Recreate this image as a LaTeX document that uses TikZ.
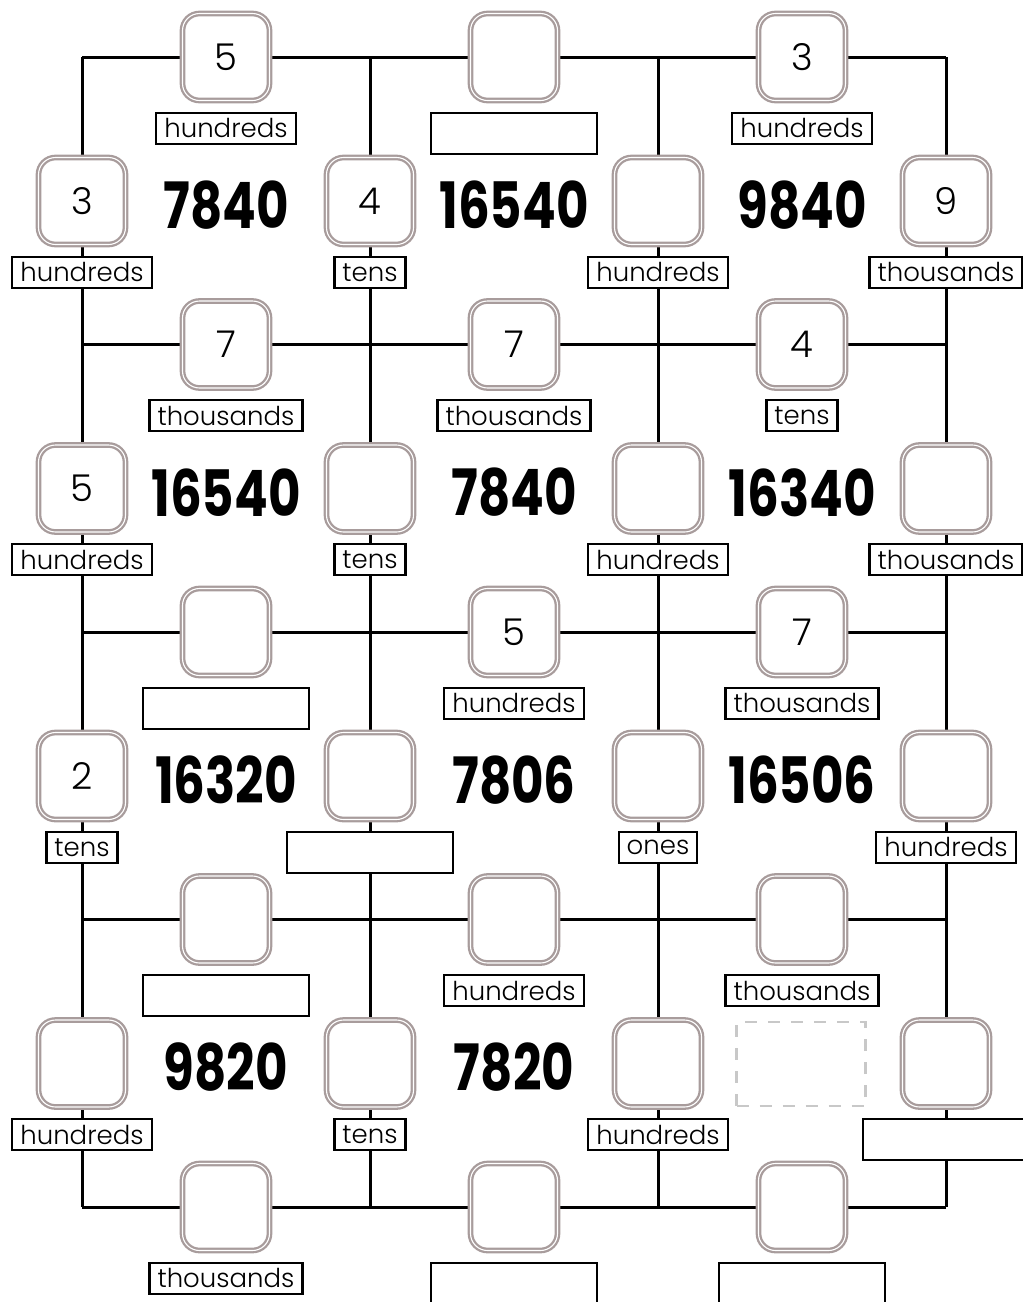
\documentclass[tikz,border=0pt]{standalone}
\usepackage{fontspec}
\setmainfont{Poppins}
\newfontfamily\thinfont{Poppins Light}
\newfontfamily\numfont{Poppins}[FakeStretch=0.78]
\usepackage{tikz}
\usetikzlibrary{positioning}
\definecolor{SlotG}{RGB}{168,156,156}
\definecolor{DashG}{RGB}{200,200,200}
\tikzset{
  slot/.style={draw=SlotG,line width=2.3pt,double=white,double distance=1.1pt,fill=white,
    rounded corners=17pt,minimum width=87pt,minimum height=87pt,inner sep=0pt,
    font=\thinfont\fontsize{37}{37}\selectfont},
  tag/.style={draw,line width=2.2pt,fill=white,inner xsep=8pt,inner ysep=0pt,
    minimum height=31pt,font=\thinfont\fontsize{26}{26}\selectfont},
  blanktag/.style={draw,line width=2.2pt,fill=white,minimum width=166pt,minimum height=41pt},
  bignum/.style={font=\numfont\bfseries\fontsize{64}{64}\selectfont,inner sep=0pt},
  ghost/.style={draw=DashG,line width=2.5pt,dash pattern=on 12pt off 11pt,
    minimum width=129pt,minimum height=84pt},
  grid line/.style={line width=3pt}
}
\begin{document}
\begin{tikzpicture}[x=1pt,y=-1pt]
  \useasboundingbox (0,0) rectangle (1023,1302);
  \clip (0,0) rectangle (1023,1302);
  % grid corners
  \foreach \i in {0,...,3}{
    \foreach \j in {0,...,4}{
      \coordinate (g\i\j) at ({82+288*\i},{57+287.5*\j});}}
  \foreach \j in {0,...,4}{\draw[grid line] (g0\j) -- (g3\j);}
  \foreach \i in {0,...,3}{\draw[grid line] (g\i0) -- (g\i4);}
  % slots on the horizontal lines
  \foreach \i/\j/\v/\t in {0/0/5/hundreds,2/0/3/hundreds,
                           0/1/7/thousands,1/1/7/thousands,2/1/4/tens,
                           1/2/5/hundreds,2/2/7/thousands,
                           1/3//hundreds,2/3//thousands,0/4//thousands}{
    \node[slot] (h\i\j) at ({226+288*\i},{57+287.5*\j}) {\v};
    \node[tag,below=10pt of h\i\j] (th\i\j) {\t};}
  \foreach \i/\j in {1/0,0/2,0/3,1/4,2/4}{
    \node[slot] (h\i\j) at ({226+288*\i},{57+287.5*\j}) {};
    \node[blanktag,below=10pt of h\i\j] (th\i\j) {};}
  % slots on the vertical lines
  \foreach \i/\j/\v/\t in {0/0/3/hundreds,1/0/4/tens,2/0//hundreds,3/0/9/thousands,
                           0/1/5/hundreds,1/1//tens,2/1//hundreds,3/1//thousands,
                           0/2/2/tens,2/2//ones,3/2//hundreds,
                           0/3//hundreds,1/3//tens,2/3//hundreds}{
    \node[slot] (v\i\j) at ({82+288*\i},{201+287.5*\j}) {\v};
    \node[tag,below=10pt of v\i\j] (tv\i\j) {\t};}
  \foreach \i/\j in {1/2,3/3}{
    \node[slot] (v\i\j) at ({82+288*\i},{201+287.5*\j}) {};
    \node[blanktag,below=10pt of v\i\j] (tv\i\j) {};}
  % numbers in the cells
  \foreach \i/\j/\n in {0/0/7840,1/0/16540,2/0/9840,
                        0/1/16540,1/1/7840,2/1/16340,
                        0/2/16320,1/2/7806,2/2/16506,
                        0/3/9820,1/3/7820}{
    \node[bignum] (n\i\j) at ({226+288*\i},{205+287.5*\j}) {\n};}
  \node[ghost] (n23) at (801,1064) {};
\end{tikzpicture}
\end{document}
